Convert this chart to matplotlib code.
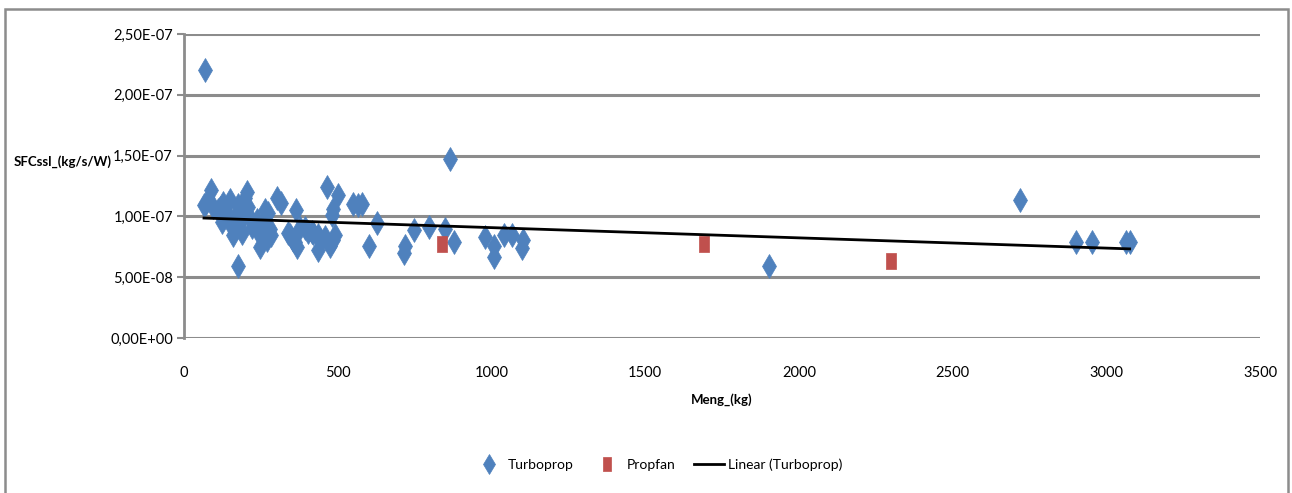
import numpy as np
import matplotlib
matplotlib.use("Agg")
import matplotlib.pyplot as plt
from matplotlib.patches import Rectangle
from matplotlib.ticker import FuncFormatter

plt.rcParams['font.family'] = ['Lato', 'DejaVu Sans']

BLUE = "#4F81BD"
RED = "#C0504D"
GRID = "#8C8C8C"

# engine mass (kg) and sea-level SFC (units of 1e-8 kg/s/W)
turbo_m = [65, 72, 88, 94, 111, 117, 127, 137, 150, 124, 143, 156, 159, 169, 176, 182,
           189, 189, 198, 205, 208, 215, 221, 237, 241, 247, 247, 254, 263, 273, 273,
           270, 280, 283, 302, 315, 338, 345, 354, 361, 364, 367, 377, 393, 403, 416,
           420, 436, 436, 442, 459, 465, 475, 481, 485, 485, 491, 501, 550, 566, 579,
           176, 68,
           602, 628, 715, 719, 748, 797, 849, 865, 878, 979, 1008, 1008, 1041, 1067,
           1102, 1099,
           1902, 2719, 2901, 2953, 3063, 3076]
turbo_sfc = [10.9, 11.1, 12.2, 10.8, 10.5, 10.7, 11.1, 10.4, 11.35, 9.5, 9.9, 9.1, 8.5,
             10.1, 10.9, 9.5, 8.6, 9.9, 11.5, 12.0, 10.8, 9.9, 9.1, 9.7, 8.7, 7.5, 8.6,
             9.3, 10.5, 10.3, 8.6, 8.1, 9.0, 8.5, 11.5, 11.1, 8.6, 8.5, 8.1, 7.9, 10.5,
             7.5, 9.05, 9.05, 8.7, 8.7, 8.6, 8.5, 7.2, 8.1, 8.3, 12.4, 7.6, 10.1, 10.6,
             8.1, 8.5, 11.8, 11.0, 10.9, 11.0,
             5.9, 22.0,
             7.6, 9.45, 7.0, 7.55, 8.9, 9.1, 9.0, 14.7, 7.9, 8.3, 7.6, 6.65, 8.45, 8.45,
             8.05, 7.4,
             5.9, 11.35, 7.9, 7.9, 7.9, 7.9]
prop_m = [839, 1691, 2299]
prop_sfc = [7.75, 7.7, 6.35]

turbo_m = np.array(turbo_m, float)
turbo_sfc = np.array(turbo_sfc) * 1e-8
prop_sfc = np.array(prop_sfc) * 1e-8

# linear trend of the turboprop series
k, b = np.polyfit(turbo_m, turbo_sfc, 1)
xs = np.array([turbo_m.min(), turbo_m.max()])

fig = plt.figure(figsize=(12.92, 4.93), dpi=100)
ax = fig.add_axes([184/1292, 1-338/493, 1076/1292, 304/493])

rect_marker = [(-0.3, -0.5), (0.3, -0.5), (0.3, 0.5), (-0.3, 0.5), (-0.3, -0.5)]
ax.plot(turbo_m, turbo_sfc, ls="none", marker="d", ms=12.5, color=BLUE,
        mec=BLUE, mew=0.5, label="Turboprop", zorder=4)
ax.plot(prop_m, prop_sfc, ls="none", marker=rect_marker, ms=12, color=RED,
        mec=RED, mew=0.5, label="Propfan", zorder=4)
ax.plot(xs, k*xs + b, color="black", lw=2, label="Linear (Turboprop)", zorder=5)

ax.set_xlim(0, 3500)
ax.set_ylim(0, 2.5e-7)
ax.set_xticks(np.arange(0, 3501, 500))
ax.set_yticks(np.arange(0, 2.51e-7, 0.5e-7))
ax.yaxis.set_major_formatter(FuncFormatter(lambda v, p: f"{v:.2E}".replace(".", ",")))
ax.grid(axis="y", color=GRID, lw=2.2)
ax.set_axisbelow(True)
for s in ["top", "right", "bottom"]:
    ax.spines[s].set_visible(False)
ax.spines["left"].set_color(GRID)
ax.spines["left"].set_linewidth(2)
ax.tick_params(axis="y", length=5, width=1.5, color=GRID, labelsize=10.5, pad=3)
ax.tick_params(axis="x", length=0, labelsize=10.5, pad=20)

fig.text(722/1292, 1-400/493, "Meng_(kg)", ha="center", va="center",
         fontsize=9.5, fontweight="bold")
fig.text(112/1292, 1-162/493, "SFCssl_(kg/s/W)", ha="right", va="center",
         fontsize=9.5, fontweight="bold")

leg = fig.legend(loc="center", bbox_to_anchor=(658/1292, 1-465/493), ncol=3,
                 frameon=False, fontsize=10, handlelength=2.2, columnspacing=1.3,
                 handletextpad=0.3, markerscale=0.85)

fig.patches.append(Rectangle((5/1292, -0.02), 1283/1292, 1-9/493+0.02,
                             transform=fig.transFigure, fill=False,
                             edgecolor=GRID, lw=1.8))

fig.savefig("out.png", dpi=100)
